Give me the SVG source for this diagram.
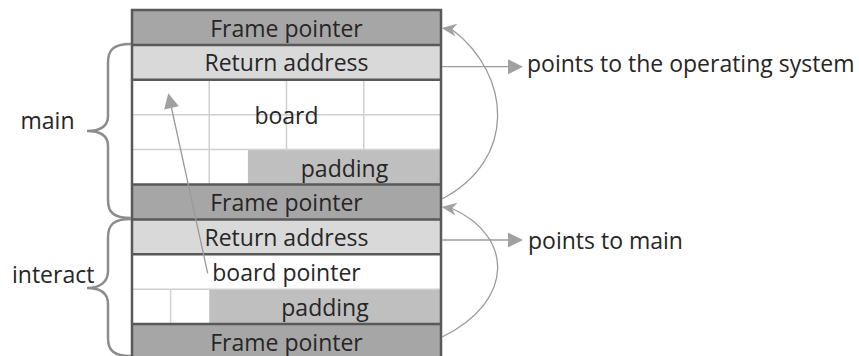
<svg xmlns="http://www.w3.org/2000/svg" width="859" height="356" viewBox="0 0 859 356">
<style>
text{font-family:"Open Sans","Liberation Sans",sans-serif;font-size:23px;fill:#262626}
.c{text-anchor:middle}
.fp{fill:#a6a6a6}
.ra{fill:#d9d9d9}
.pad{fill:#bfbfbf}
.wh{fill:#ffffff}
.grid{stroke:#d0d0d0;stroke-width:1.5;fill:none}
.sep{stroke:#595959;stroke-width:2.5;fill:none}
.brace{stroke:#8c8c8c;stroke-width:2.5;fill:none}
.conn{stroke:#9a9a9a;stroke-width:1.3;fill:none}
.head{fill:#a0a0a0}
</style>
<defs>
<marker id="tri" markerUnits="userSpaceOnUse" viewBox="-16 -8 17 16" markerWidth="17" markerHeight="16" refX="-14" refY="0" orient="auto">
<path class="head" d="M0,0 L-15,-7.5 L-15,7.5 Z"/>
</marker>
<marker id="stealth" markerUnits="userSpaceOnUse" viewBox="-16 -8 17 16" markerWidth="17" markerHeight="16" refX="-10.5" refY="0" orient="188">
<path class="head" d="M0,0 L-15,-6.5 L-10.5,0 L-15,6.5 Z"/>
</marker>
</defs>

<g id="main-frame-pointer">
<rect class="fp" x="132" y="10" width="309" height="34.9"/>
<text class="c" x="286.5" y="36.5">Frame pointer</text>
</g>
<g id="main-return-address">
<rect class="ra" x="132" y="44.9" width="309" height="34.9"/>
<text class="c" x="286.5" y="71.4">Return address</text>
</g>
<g id="main-board">
<rect class="wh" x="132" y="79.8" width="309" height="104.7"/>
<rect class="pad" x="247.9" y="149.6" width="193.1" height="34.9"/>
<path class="grid" d="M132,114.7 H441 M132,149.6 H441 M209.25,79.8 V184.5 M286.5,79.8 V149.6 M363.75,79.8 V149.6"/>
<text class="c" x="286.5" y="124">board</text>
<text class="c" x="344.5" y="176.5">padding</text>
</g>
<g id="interact-frame-pointer">
<rect class="fp" x="132" y="184.5" width="309" height="34.9"/>
<text class="c" x="286.5" y="211">Frame pointer</text>
</g>
<g id="interact-return-address">
<rect class="ra" x="132" y="219.4" width="309" height="34.9"/>
<text class="c" x="286.5" y="246">Return address</text>
</g>
<g id="interact-board-pointer">
<rect class="wh" x="132" y="254.3" width="309" height="34.9"/>
<text class="c" x="286.5" y="280.8">board pointer</text>
</g>
<g id="interact-padding">
<rect class="wh" x="132" y="289.2" width="309" height="34.9"/>
<rect class="pad" x="209.25" y="289.2" width="231.75" height="34.9"/>
<path class="grid" d="M132,289.2 H441 M170.6,289.2 V324.1"/>
<text class="c" x="325" y="315.6">padding</text>
</g>
<g id="next-frame-pointer">
<rect class="fp" x="132" y="324.1" width="309" height="34.9"/>
<text class="c" x="286.5" y="350.5">Frame pointer</text>
</g>
<g id="table-borders">
<path class="sep" d="M132,44.9 H441 M132,79.8 H441 M132,184.5 H441 M132,219.4 H441 M132,254.3 H441 M132,324.1 H441"/>
<rect class="sep" x="132" y="10" width="309" height="360"/>
</g>

<g id="main-label">
<path class="brace" d="M131,44 C113,44 108,50 108,63 L108,116 C108,127 100,131 87,131 C100,131 108,135 108,146 L108,200 C108,212 113,218 131,218"/>
<text x="20.5" y="129">main</text>
</g>
<g id="interact-label">
<path class="brace" d="M131,219 C113,219 108,225 108,238 L108,271 C108,282 100,288 87,288 C100,288 108,293 108,304 L108,338 C108,350 113,356 131,356"/>
<text x="12" y="283">interact</text>
</g>

<g id="os-label">
<text x="527" y="72">points to the operating system</text>
</g>
<g id="main-target-label">
<text x="528" y="248.5">points to main</text>
</g>

<g id="connectors">
<path class="conn" d="M442,66.7 L509,66.7" marker-end="url(#tri)"/>
<path class="conn" d="M442,240 L509,240" marker-end="url(#tri)"/>
<path class="conn" d="M207.7,273.3 L171.3,107" marker-end="url(#tri)"/>
<path class="conn" d="M442,199 C517,160 512,75 452,29.5" marker-end="url(#stealth)"/>
<path class="conn" d="M442,337 C517,300 512,235 452,208.5" marker-end="url(#stealth)"/>
</g>
</svg>
